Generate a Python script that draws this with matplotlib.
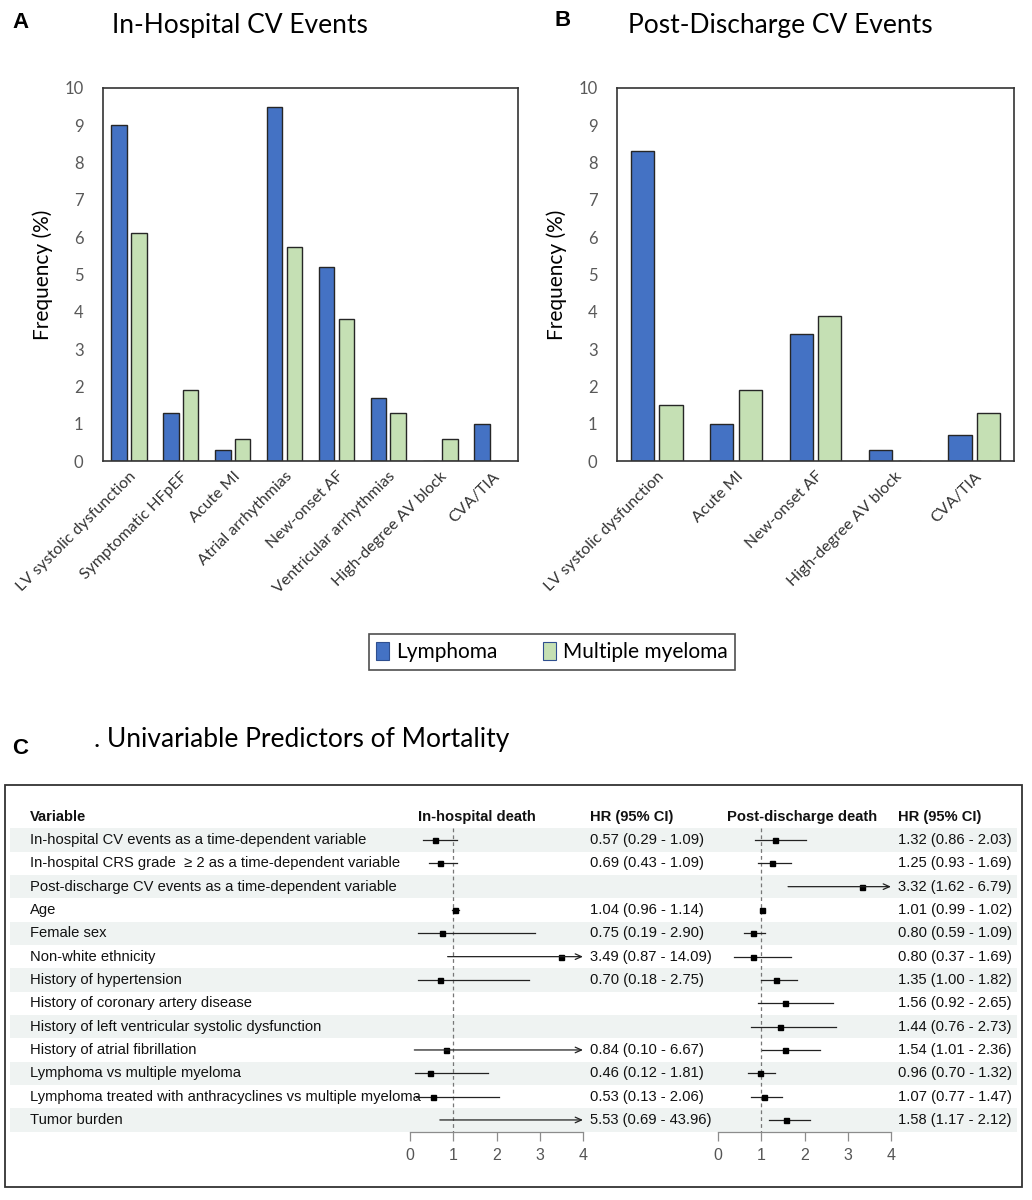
import matplotlib
matplotlib.use("Agg")
import matplotlib.pyplot as plt
from matplotlib.patches import Patch, Rectangle
import numpy as np

W, H = 1032, 1200

# Panel A data
cats_a = ["LV systolic dysfunction", "Symptomatic HFpEF", "Acute MI", "Atrial arrhythmias",
          "New-onset AF", "Ventricular arrhythmias", "High-degree AV block", "CVA/TIA"]
lymph_a = [9.0, 1.3, 0.3, 9.5, 5.2, 1.7, 0.0, 1.0]
myel_a = [6.1, 1.9, 0.6, 5.75, 3.8, 1.3, 0.6, 0.0]

# Panel B data
cats_b = ["LV systolic dysfunction", "Acute MI", "New-onset AF", "High-degree AV block", "CVA/TIA"]
lymph_b = [8.3, 1.0, 3.4, 0.3, 0.7]
myel_b = [1.5, 1.9, 3.9, 0.0, 1.3]

# Panel C data
variables = [
    "In-hospital CV events as a time-dependent variable",
    "In-hospital CRS grade  \u2265 2 as a time-dependent variable",
    "Post-discharge CV events as a time-dependent variable",
    "Age",
    "Female sex",
    "Non-white ethnicity",
    "History of hypertension",
    "History of coronary artery disease",
    "History of left ventricular systolic dysfunction",
    "History of atrial fibrillation",
    "Lymphoma vs multiple myeloma",
    "Lymphoma treated with anthracyclines vs multiple myeloma",
    "Tumor burden",
]
hr_in = [0.57, 0.69, None, 1.04, 0.75, 3.49, 0.70, None, None, 0.84, 0.46, 0.53, 5.53]
lo_in = [0.29, 0.43, None, 0.96, 0.19, 0.87, 0.18, None, None, 0.10, 0.12, 0.13, 0.69]
hi_in = [1.09, 1.09, None, 1.14, 2.90, 14.09, 2.75, None, None, 6.67, 1.81, 2.06, 43.96]
hr_post = [1.32, 1.25, 3.32, 1.01, 0.80, 0.80, 1.35, 1.56, 1.44, 1.54, 0.96, 1.07, 1.58]
lo_post = [0.86, 0.93, 1.62, 0.99, 0.59, 0.37, 1.00, 0.92, 0.76, 1.01, 0.70, 0.77, 1.17]
hi_post = [2.03, 1.69, 6.79, 1.02, 1.09, 1.69, 1.82, 2.65, 2.73, 2.36, 1.32, 1.47, 2.12]

BLUE = "#4472C4"
GREEN = "#C5E0B4"
EDGE = "#262626"
TFONT = "Lato"
FFONT = "Liberation Sans"


def px_rect(l, t, r, b):
    return [l / W, 1 - b / H, (r - l) / W, (b - t) / H]


fig = plt.figure(figsize=(W / 100, H / 100), dpi=100)


def bar_panel(rect, cats, v1, v2, width, off):
    ax = fig.add_axes(px_rect(*rect))
    x = np.arange(len(cats))
    ax.bar(x - off, v1, width, color=BLUE, edgecolor=EDGE, linewidth=1.0)
    ax.bar(x + off, v2, width, color=GREEN, edgecolor=EDGE, linewidth=1.0)
    ax.set_xlim(-0.5, len(cats) - 0.5)
    ax.set_ylim(0, 10)
    ax.set_yticks(range(11))
    ax.set_xticks(x)
    ax.set_xticklabels(cats, rotation=45, ha="right", rotation_mode="anchor",
                       fontsize=11.5, family=TFONT, color="#333333")
    for lab in ax.get_yticklabels():
        lab.set_family(TFONT)
    ax.tick_params(axis="y", length=0, pad=14, labelsize=12, labelcolor="#595959")
    ax.tick_params(axis="x", length=0, pad=6)
    for s in ax.spines.values():
        s.set_color("#333333")
        s.set_linewidth(1.2)
    ax.set_ylabel("Frequency (%)", fontsize=15, family=TFONT, labelpad=8)
    return ax


axA = bar_panel((103, 88, 518, 461), cats_a, lymph_a, myel_a, 0.30, 0.19)
axB = bar_panel((617, 88, 1014, 461), cats_b, lymph_b, myel_b, 0.29, 0.18)

fig.text(12 / W, 1 - 22 / H, "A", fontsize=16, fontweight="bold", family="Liberation Sans", va="center")
fig.text(554 / W, 1 - 20 / H, "B", fontsize=16, fontweight="bold", family="Liberation Sans", va="center")
fig.text(240 / W, 1 - 25 / H, "In-Hospital CV Events", fontsize=19, family=TFONT, ha="center", va="center")
fig.text(780 / W, 1 - 26 / H, "Post-Discharge CV Events", fontsize=19, family=TFONT, ha="center", va="center")

handles = [Patch(facecolor=BLUE, edgecolor="#2F4F8F", linewidth=0.8, label="Lymphoma"),
           Patch(facecolor=GREEN, edgecolor="#2F4F8F", linewidth=0.8, label="Multiple myeloma")]
leg = fig.legend(handles=handles, loc="center", bbox_to_anchor=(552 / W, 1 - 652 / H), ncol=2,
                 prop={"family": TFONT, "size": 15}, frameon=True, fancybox=False,
                 edgecolor="#222222", handlelength=0.6, handleheight=1.0, handletextpad=0.35,
                 columnspacing=2.2, borderpad=0.35)
leg.get_frame().set_linewidth(1.2)

# Panel C
fig.text(12 / W, 1 - 748 / H, "C", fontsize=16, fontweight="bold", family="Liberation Sans", va="center")
fig.text(94 / W, 1 - 740 / H, ". Univariable Predictors of Mortality", fontsize=19, family=TFONT, va="center")
fig.add_artist(Rectangle((5 / W, 1 - 1187 / H), 1017 / W, 402 / H, transform=fig.transFigure,
                         fill=False, edgecolor="#333333", linewidth=1.3))

n = len(variables)
row0, step = 840, 23.33
top_px = row0 - 1.5 * step
bot_px = row0 + (n - 0.5) * step

tab = fig.add_axes(px_rect(0, top_px, W, bot_px))
tab.set_xlim(0, W)
tab.set_ylim(n - 0.5, -1.5)
tab.axis("off")
rows = np.arange(n)
shade = rows[::2]
tab.barh(shade, 1007, left=10, height=1.0, color="#EFF3F2", linewidth=0)

fs = 10.6
hdr = dict(fontsize=fs, fontweight="bold", family=FFONT, va="center", color="#111111")
tab.text(30, -1, "Variable", **hdr)
tab.text(418, -1, "In-hospital death", **hdr)
tab.text(590, -1, "HR (95% CI)", **hdr)
tab.text(727, -1, "Post-discharge death", **hdr)
tab.text(898, -1, "HR (95% CI)", **hdr)

cell = dict(fontsize=fs, family=FFONT, va="center", color="#111111")
for i, name in enumerate(variables):
    tab.text(30, i, name, **cell)
    if hr_in[i] is not None:
        tab.text(590, i, f"{hr_in[i]:.2f} ({lo_in[i]:.2f} - {hi_in[i]:.2f})", **cell)
    tab.text(898, i, f"{hr_post[i]:.2f} ({lo_post[i]:.2f} - {hi_post[i]:.2f})", **cell)


def forest(rect_x, hr, lo, hi):
    ax = fig.add_axes(px_rect(rect_x[0], top_px, rect_x[1], bot_px))
    ax.patch.set_alpha(0)
    ax.set_xlim(0, 4)
    ax.set_ylim(n - 0.5, -1.5)
    ax.vlines(1, -0.5, n - 0.5, colors="#777777", linestyles=(0, (3, 2.5)), linewidth=0.9)
    for i in range(n):
        if hr[i] is None:
            continue
        if hi[i] > 4:
            ax.annotate("", xy=(4, i), xytext=(lo[i], i),
                        arrowprops=dict(arrowstyle="->,head_length=0.45,head_width=0.2",
                                        color="#222222", lw=0.9, shrinkA=0, shrinkB=0))
        else:
            ax.plot([lo[i], hi[i]], [i, i], color="#222222", lw=0.9, clip_on=False)
        if hr[i] <= 4:
            ax.plot(hr[i], i, marker="s", ms=3.6, color="black", clip_on=False)
    for s in ("left", "top", "right"):
        ax.spines[s].set_visible(False)
    ax.spines["bottom"].set_color("#8C8C8C")
    ax.spines["bottom"].set_linewidth(0.9)
    ax.set_yticks([])
    ax.set_xticks(range(5))
    ax.tick_params(axis="x", direction="out", length=6.5, width=0.9, color="#8C8C8C",
                   labelsize=11.5, labelcolor="#555555", pad=5)
    for lab in ax.get_xticklabels():
        lab.set_family(FFONT)
    return ax


forest((410, 583), hr_in, lo_in, hi_in)
forest((718, 891), hr_post, lo_post, hi_post)

fig.savefig("out.png", dpi=100, facecolor="white")
